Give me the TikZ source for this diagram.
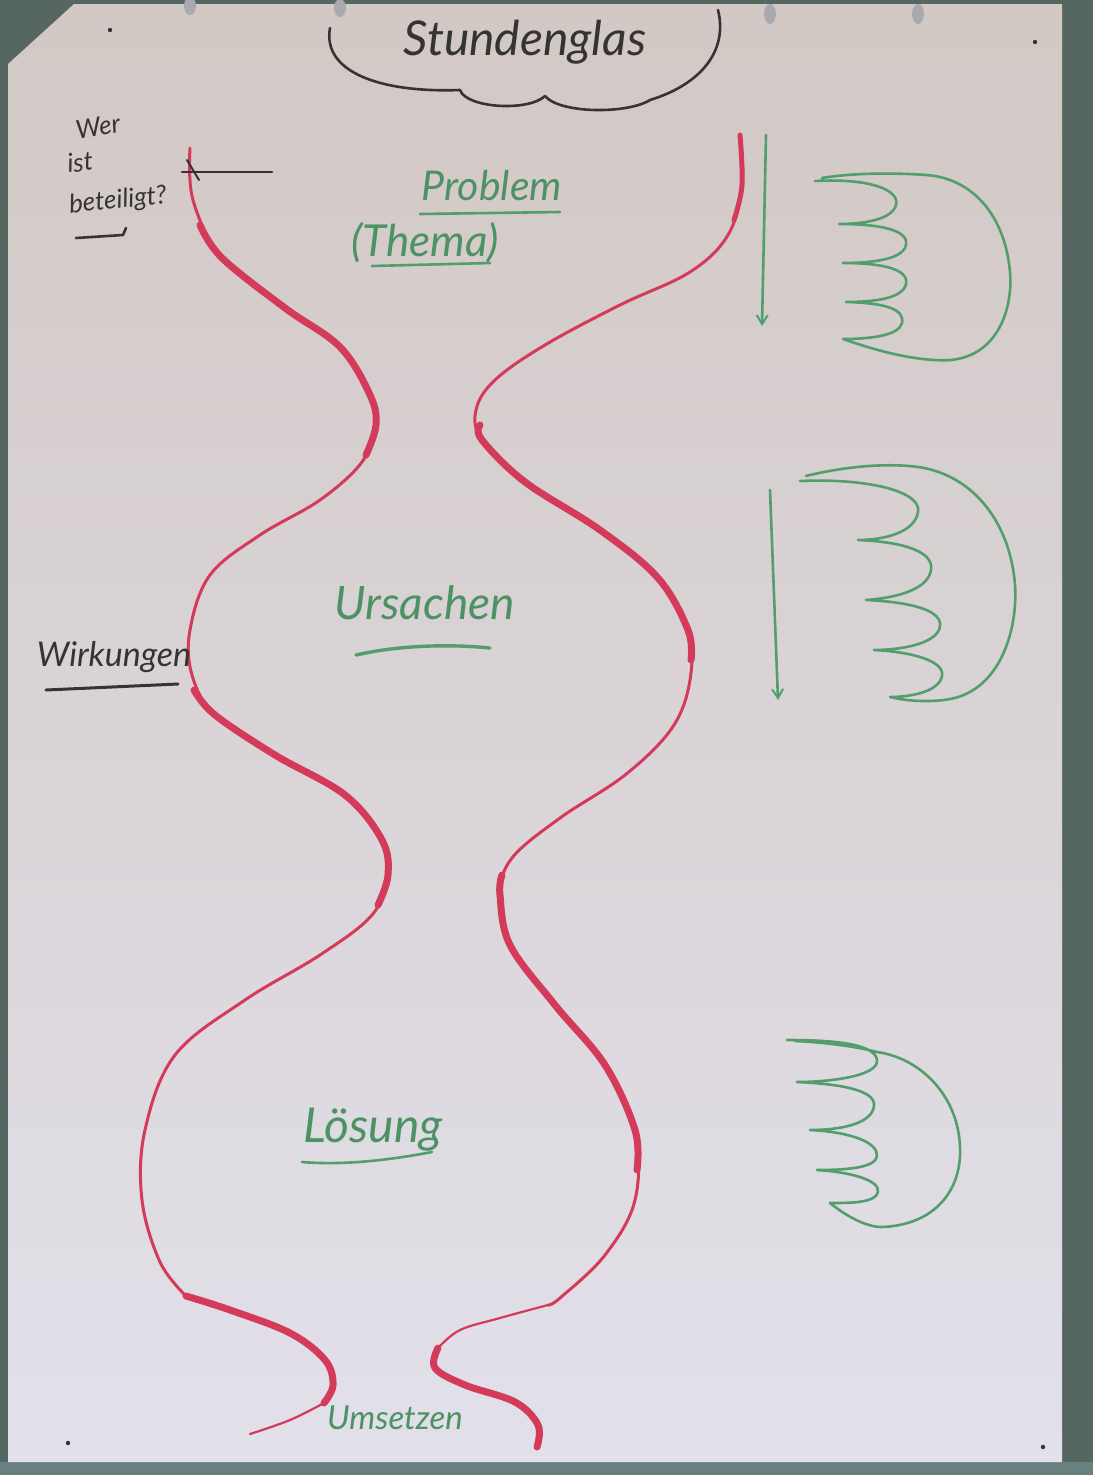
\documentclass[tikz,border=0pt]{standalone}
\usepackage{fontspec}
\setmainfont{Lato}
\usetikzlibrary{arrows.meta}
\definecolor{bgdark}{RGB}{86,102,96}
\definecolor{bgbottom}{RGB}{104,128,128}
\definecolor{paperbot}{RGB}{226,224,234}
\definecolor{papermid}{RGB}{222,218,222}
\definecolor{papertop}{RGB}{210,200,196}
\definecolor{redpen}{RGB}{212,58,90}
\definecolor{greenpen}{RGB}{82,158,108}
\definecolor{greentext}{RGB}{76,146,100}
\definecolor{blackpen}{RGB}{52,52,52}
\definecolor{pincol}{RGB}{168,170,176}
\begin{document}
\begin{tikzpicture}[x=1pt,y=-1pt,
  redthin/.style={draw=redpen, line width=3pt, line cap=round, line join=round},
  redthick/.style={draw=redpen, line width=7pt, line cap=round, line join=round},
  redmid/.style={draw=redpen, line width=5pt, line cap=round, line join=round},
  greenline/.style={draw=greenpen, line width=2.6pt, line cap=round, line join=round},
  blackline/.style={draw=blackpen, line width=2.6pt, line cap=round, line join=round},
  greenarrow/.style={draw=greenpen, line width=2.6pt, line cap=round, -{Straight Barb[length=9pt,width=11pt,line width=2pt]}},
  gtext/.style={text=greentext, font=\itshape, inner sep=0pt},
  btext/.style={text=blackpen, font=\itshape, inner sep=0pt}
]
\useasboundingbox (0,0) rectangle (1093,1475);
% background and paper
\fill[bgdark] (0,0) rectangle (1093,1475);
\fill[bgbottom] (0,1462) rectangle (1093,1475);
\shade[top color=papertop, middle color=papermid, bottom color=paperbot]
  (8,64) -- (74,4) -- (1062,4) -- (1062,1462) -- (8,1462) -- cycle;
% pins and dots
\fill[pincol] (190,6) ellipse [x radius=6, y radius=9];
\fill[pincol] (340,8) ellipse [x radius=6, y radius=9];
\fill[pincol] (770,14) ellipse [x radius=6, y radius=10];
\fill[pincol] (918,14) ellipse [x radius=6, y radius=10];
\fill[blackpen] (110,30) circle [radius=2.2];
\fill[blackpen] (1035,42) circle [radius=2.2];
\fill[blackpen] (68,1443) circle [radius=2.2];
\fill[blackpen] (1043,1447) circle [radius=2.2];

% title with cloud
\node[btext, font=\itshape\fontsize{48}{48}\selectfont] (title) at (525,42) {Stundenglas};
\draw[blackline] (330,28) .. controls (322,72) and (380,93) .. (460,90)
  .. controls (466,108) and (528,112) .. (545,96)
  .. controls (560,114) and (628,114) .. (650,100)
  .. controls (702,84) and (728,50) .. (718,10);

% left red curve
\draw[redthin] plot[smooth, tension=0.6] coordinates {(190,148) (193,200) (222,258) (285,308) (340,347) (370,395) (376,425) (362,462) (320,500) (260,535) (210,575) (190,630) (192,675) (215,715) (275,755) (345,795) (382,840) (388,875) (372,915) (320,955) (245,1000) (175,1055) (145,1130) (142,1200) (160,1262) (186,1296)};
\draw[redthick] plot[smooth, tension=0.6] coordinates {(200,225) (222,258) (285,308) (340,347) (370,395) (376,425) (366,455)};
\draw[redthick] plot[smooth, tension=0.6] coordinates {(194,690) (215,715) (275,755) (345,795) (382,840) (388,875) (378,905)};
\draw[redthick] plot[smooth, tension=0.6] coordinates {(186,1296) (230,1310) (290,1333) (325,1360) (333,1385) (324,1403)};
\draw[redthin, line width=2.2pt] plot[smooth, tension=0.6] coordinates {(324,1403) (290,1420) (250,1434)};

% right red curve
\draw[redthin] plot[smooth, tension=0.6] coordinates {(740,135) (742,185) (728,235) (690,272) (620,305) (545,345) (495,380) (476,410) (482,440) (525,482) (600,530) (658,578) (688,630) (690,680) (672,728) (625,775) (560,818) (512,858) (500,895) (510,945) (555,1005) (605,1065) (635,1130) (635,1200) (605,1255) (560,1298) (548,1305)};
\draw[redmid] plot[smooth, tension=0.6] coordinates {(740,135) (742,185) (734,220)};
\draw[redthick] plot[smooth, tension=0.6] coordinates {(480,425) (482,440) (525,482) (600,530) (658,578) (688,630) (691,660)};
\draw[redthick] plot[smooth, tension=0.6] coordinates {(502,875) (500,895) (510,945) (555,1005) (605,1065) (635,1130) (637,1170)};
\draw[redthin, line width=2.2pt] plot[smooth, tension=0.6] coordinates {(548,1305) (500,1318) (460,1330) (438,1348)};
\draw[redthick] plot[smooth, tension=0.6] coordinates {(438,1348) (435,1368) (465,1385) (515,1402) (538,1425) (537,1447)};

% left black notes
\node[btext, font=\itshape\fontsize{26}{26}\selectfont, rotate=10] (wer) at (98,127) {Wer};
\node[btext, font=\itshape\fontsize{26}{26}\selectfont, rotate=6] (ist) at (80,162) {ist};
\node[btext, font=\itshape\fontsize{26}{26}\selectfont, rotate=6] (beteiligt) at (118,201) {beteiligt?};
\draw[blackline] (76,238) -- (123,235) -- (126,228);
\coordinate (markL) at (182,172);
\coordinate (markR) at (272,172);
\draw[blackline] (markL) -- (markR);
\draw[blackline, line width=2pt] (187,160) -- (199,180);

\node[btext, font=\itshape\fontsize{34}{34}\selectfont] (wirkungen) at (114,657) {Wirkungen};
\draw[blackline, line width=3pt] (46,690) -- (178,684);

% green labels
\node[gtext, font=\itshape\fontsize{41}{41}\selectfont] (problem) at (492,186) {Problem};
\draw[greenline] (420,214) -- (560,212);
\node[gtext, font=\itshape\fontsize{44}{44}\selectfont] (thema) at (425,243) {(Thema)};
\draw[greenline] (372,266) -- (490,263);

\node[gtext, font=\itshape\fontsize{46}{46}\selectfont] (ursachen) at (425,603) {Ursachen};
\draw[greenline, line width=3.4pt] (356,655) .. controls (400,645) and (450,644) .. (490,648);

\node[gtext, font=\itshape\fontsize{48}{48}\selectfont] (loesung) at (373,1130) {Lösung};
\draw[greenline] (302,1162) .. controls (350,1166) and (400,1158) .. (432,1152);

\node[gtext, font=\itshape\fontsize{33}{33}\selectfont] (umsetzen) at (395,1418) {Umsetzen};

% green arrows
\coordinate (a1s) at (766,135);
\coordinate (a1e) at (762,326);
\draw[greenarrow] (a1s) -- (a1e);
\coordinate (a2s) at (770,490);
\coordinate (a2e) at (778,700);
\draw[greenarrow] (a2s) -- (a2e);

% hand 1
\draw[greenline] (815,181) .. controls (870,178) and (900,190) .. (896,205)
  .. controls (892,220) and (862,224) .. (839,224)
  .. controls (880,224) and (909,230) .. (906,245)
  .. controls (903,260) and (870,263) .. (843,263)
  .. controls (885,263) and (909,270) .. (906,284)
  .. controls (903,299) and (872,302) .. (846,302)
  .. controls (885,303) and (905,309) .. (902,323)
  .. controls (899,336) and (868,339) .. (843,339)
  .. controls (880,352) and (920,362) .. (951,360)
  .. controls (1000,355) and (1013,305) .. (1010,272)
  .. controls (1005,215) and (972,178) .. (926,175)
  .. controls (885,172) and (845,174) .. (822,178);

% hand 2
\draw[greenline] (800,481) .. controls (870,478) and (922,492) .. (918,512)
  .. controls (915,532) and (885,540) .. (858,540)
  .. controls (905,542) and (934,552) .. (931,570)
  .. controls (928,590) and (895,598) .. (866,600)
  .. controls (910,602) and (942,610) .. (940,626)
  .. controls (938,644) and (900,650) .. (874,650)
  .. controls (915,652) and (945,662) .. (942,676)
  .. controls (939,692) and (910,697) .. (890,697)
  .. controls (910,702) and (935,702) .. (950,699)
  .. controls (1000,690) and (1018,630) .. (1015,585)
  .. controls (1010,520) and (970,470) .. (909,466)
  .. controls (870,463) and (830,470) .. (806,476);

% hand 3
\draw[greenline] (787,1040) .. controls (830,1040) and (875,1043) .. (877,1060)
  .. controls (879,1076) and (830,1082) .. (797,1082)
  .. controls (840,1084) and (876,1090) .. (874,1106)
  .. controls (872,1124) and (840,1130) .. (810,1130)
  .. controls (850,1132) and (878,1142) .. (877,1156)
  .. controls (876,1168) and (845,1170) .. (817,1170)
  .. controls (850,1172) and (880,1180) .. (878,1192)
  .. controls (876,1203) and (850,1203) .. (830,1203)
  .. controls (845,1215) and (865,1227) .. (882,1227)
  .. controls (935,1225) and (962,1190) .. (960,1147)
  .. controls (958,1095) and (920,1058) .. (877,1052)
  .. controls (855,1046) and (820,1042) .. (795,1041);
\end{tikzpicture}
\end{document}
